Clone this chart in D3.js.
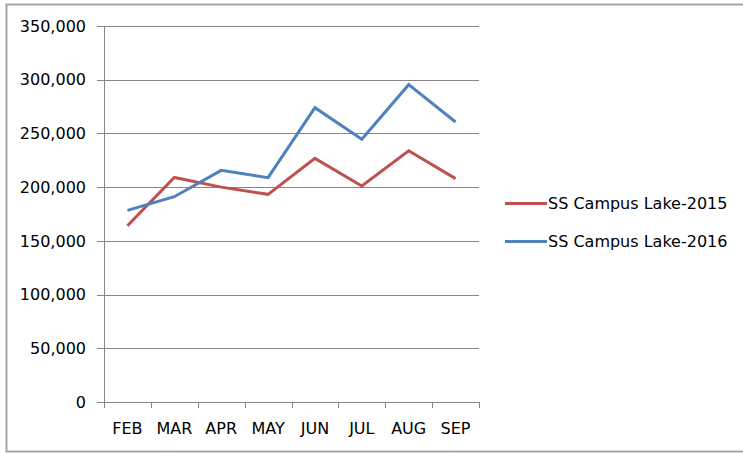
<!DOCTYPE html>
<meta charset="utf-8">
<style>
body { margin: 0; background: #fff; }
text { font-family: "DejaVu Sans", sans-serif; font-size: 16px; fill: #000; }
</style>
<body>
<script src="https://cdn.jsdelivr.net/npm/d3@7/dist/d3.min.js"></script>
<script>

// chart values
var months = ["FEB", "MAR", "APR", "MAY", "JUN", "JUL", "AUG", "SEP"];
var lake2015 = [164000, 209000, 200000, 193300, 226800, 201000, 233900, 207900];
var lake2016 = [178400, 191100, 215600, 208800, 274000, 244500, 295400, 260600];
var seriesNames = ["SS Campus Lake-2015", "SS Campus Lake-2016"];
var yTicks = [0, 50000, 100000, 150000, 200000, 250000, 300000, 350000];

var colors = ["#c0504d", "#4f81bd"];
var series = [lake2015, lake2016];

var W = 743, H = 453;
var plot = {left: 104, right: 479, top: 26, bottom: 402};

var svg = d3.select("body").append("svg")
  .attr("width", W)
  .attr("height", H);

// outer frame
svg.append("rect")
  .attr("x", 6.5).attr("y", 4.5)
  .attr("width", 760).attr("height", 447)
  .attr("fill", "#fff")
  .attr("stroke", "#a6a6a6")
  .attr("stroke-width", 2);

var x = d3.scaleBand().domain(months).range([plot.left, plot.right]);
var y = d3.scaleLinear().domain([0, 350000]).range([plot.bottom, plot.top]);

// horizontal gridlines (with the little tick on the left)
svg.append("g")
  .selectAll("line")
  .data(yTicks)
  .enter().append("line")
    .attr("x1", plot.left - 7)
    .attr("x2", plot.right)
    .attr("y1", function(d) { return Math.round(y(d)) + 0.5; })
    .attr("y2", function(d) { return Math.round(y(d)) + 0.5; })
    .attr("stroke", "#868686")
    .attr("stroke-width", 1);

// y axis labels
svg.append("g")
  .selectAll("text")
  .data(yTicks)
  .enter().append("text")
    .attr("x", 86)
    .attr("y", function(d) { return y(d); })
    .attr("dy", "0.36em")
    .attr("text-anchor", "end")
    .text(d3.format(","));

// y axis line
svg.append("line")
  .attr("x1", plot.left + 0.5).attr("x2", plot.left + 0.5)
  .attr("y1", plot.top).attr("y2", plot.bottom + 6)
  .attr("stroke", "#868686");

// x axis ticks between categories
var xTickPos = months.map(function(m) { return x(m); }).concat([plot.right]);
svg.append("g")
  .selectAll("line")
  .data(xTickPos)
  .enter().append("line")
    .attr("x1", function(d) { return Math.round(d) + 0.5; })
    .attr("x2", function(d) { return Math.round(d) + 0.5; })
    .attr("y1", plot.bottom)
    .attr("y2", plot.bottom + 6)
    .attr("stroke", "#868686");

// x labels
svg.append("g")
  .selectAll("text")
  .data(months)
  .enter().append("text")
    .attr("x", function(d) { return x(d) + x.bandwidth() / 2; })
    .attr("y", 428)
    .attr("dy", "0.36em")
    .attr("text-anchor", "middle")
    .text(function(d) { return d; });

// the two lines
var line = d3.line()
  .x(function(d, i) { return x(months[i]) + x.bandwidth() / 2; })
  .y(function(d) { return y(d); });

series.forEach(function(s, k) {
  svg.append("path")
    .datum(s)
    .attr("fill", "none")
    .attr("stroke", colors[k])
    .attr("stroke-width", 3)
    .attr("stroke-linejoin", "miter")
    .attr("d", line);
});

// legend
var legend = svg.append("g")
  .selectAll("g")
  .data(seriesNames)
  .enter().append("g")
    .attr("transform", function(d, i) { return "translate(505," + (203.5 + i * 38) + ")"; });

legend.append("line")
  .attr("x1", 0).attr("x2", 42)
  .attr("stroke", function(d, i) { return colors[i]; })
  .attr("stroke-width", 3);

legend.append("text")
  .attr("x", 43)
  .attr("dy", "0.36em")
  .text(function(d) { return d; });

</script>
